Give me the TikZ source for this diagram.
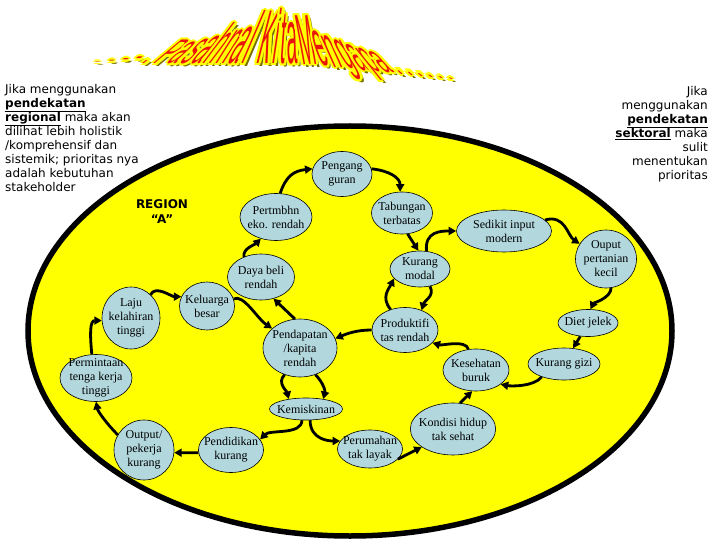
\documentclass[tikz,border=0pt]{standalone}
\usepackage{fontspec}
\setmainfont{Liberation Serif}
\newfontfamily\catatanfont{DejaVu Sans}
\newfontfamily\judulfont{Liberation Sans}
\usetikzlibrary{arrows.meta,shapes.geometric}
\definecolor{kuning}{RGB}{255,255,0}
\definecolor{biru}{RGB}{178,216,222}
\definecolor{zaitun}{RGB}{120,110,0}
\definecolor{merah}{RGB}{235,20,10}

\tikzset{
  gelembung/.style={ellipse, draw, line width=.6pt, fill=biru, inner xsep=-4pt, inner ysep=-3pt,
    align=center, font=\fontsize{12}{14}\selectfont},
  panah/.style={line width=2.8pt, -{Triangle[length=7.5pt,width=8pt]}},
  catatan/.style={font=\catatanfont\fontsize{12}{14}\selectfont, inner sep=0pt}
}

\begin{document}
\begin{tikzpicture}[x=1pt,y=-1pt]
\useasboundingbox (0,0) rectangle (720,540);
\fill[white] (0,0) rectangle (720,540);

%% judul miring
\foreach \huruf/\px in {-/95,-/107,-/119,-/131,./143,
  P/158,a/171,s/183,a/195,h/207,n/220,a/232,l/243,
  K/262,i/274,t/282,a/293,
  M/310,e/326,n/339,g/353,a/366,p/378,a/390,./402,./412,./422,./432,./442,./452} {
  \pgfmathsetmacro\atas{\px<250 ? 9+(250-\px)*0.33 : (\px>300 ? 9+(\px-300)*0.4 : 9)}
  \pgfmathsetmacro\bawah{\px>300 ? 63+(\px-300)*0.11 : 64}
  \pgfmathsetmacro\sy{(\bawah-\atas)/7.2}
  \pgfmathsetmacro\sl{(290-\px)/110}
  \foreach \dx/\dy/\warna in {3/3/zaitun,-2/0/kuning,2/0/kuning,0/-2/kuning,0/2/kuning,
      -1.5/-1.5/kuning,1.5/-1.5/kuning,-1.5/1.5/kuning,1.5/1.5/kuning}
    \node[font=\judulfont\bfseries\fontsize{10}{10}\selectfont, text=\warna, anchor=base, inner sep=0pt,
      xslant=\sl, xscale=1.9, yscale=\sy] at (\px+\dx,\bawah+\dy) {\huruf};
  \node[font=\judulfont\fontsize{10}{10}\selectfont, text=merah, anchor=base, inner sep=0pt,
      xslant=\sl, xscale=1.9, yscale=\sy] at (\px,\bawah) {\huruf};
}

%% catatan kiri dan kanan
\node[catatan, anchor=north west, align=left] (kiri) at (5,84)
  {Jika menggunakan\\ \underline{\textbf{pendekatan}}\\ \underline{\textbf{regional}} maka akan\\
   dilihat lebih holistik\\ /komprehensif dan\\ sistemik; prioritas nya\\ adalah kebutuhan\\ stakeholder};
\node[catatan, anchor=north east, align=right] (kanan) at (708,86)
  {Jika\\ menggunakan\\ \underline{\textbf{pendekatan}}\\ \underline{\textbf{sektoral}} maka\\ sulit\\
   menentukan\\ prioritas};

%% region
\draw[line width=5.5pt, fill=kuning] (350,331) ellipse [x radius=322, y radius=205];
\node[catatan, font=\catatanfont\bfseries\fontsize{12}{15}\selectfont, align=center] (region) at (162,212) {REGION\\“A”};

%% lingkaran sebab
\node[gelembung, minimum width=60pt, minimum height=45pt] (peng) at (342,174) {Pengang\\guran};
\node[gelembung, minimum width=72pt, minimum height=47pt] (pert) at (276,217) {Pertmbhn\\eko. rendah};
\node[gelembung, minimum width=61pt, minimum height=42pt] (tab) at (402,213) {Tabungan\\terbatas};
\node[gelembung, minimum width=67pt, minimum height=46pt] (daya) at (261,277) {Daya beli\\rendah};
\node[gelembung, minimum width=60pt, minimum height=36pt] (kmod) at (420,269) {Kurang\\modal};
\node[gelembung, minimum width=95pt, minimum height=42pt] (sedikit) at (504,231) {Sedikit input\\modern};
\node[gelembung, minimum width=61pt, minimum height=58pt] (ouput) at (606,259) {Ouput\\pertanian\\kecil};
\node[gelembung, minimum width=60pt, minimum height=27pt] (diet) at (588,323) {Diet jelek};
\node[gelembung, minimum width=72pt, minimum height=32pt] (gizi) at (564,364) {Kurang gizi};
\node[gelembung, minimum width=66pt, minimum height=42pt] (sehat) at (476,370) {Kesehatan\\buruk};
\node[gelembung, minimum width=66pt, minimum height=45pt] (prod) at (405,330) {Produktifi\\tas rendah};
\node[gelembung, minimum width=74pt, minimum height=58pt] (pend) at (300,348) {Pendapatan\\/kapita\\rendah};
\node[gelembung, minimum width=73pt, minimum height=22pt] (miskin) at (306,409) {Kemiskinan};
\node[gelembung, minimum width=55pt, minimum height=48pt] (kel) at (207,306) {Keluarga\\besar};
\node[gelembung, minimum width=58pt, minimum height=62pt] (laju) at (131,318) {Laju\\kelahiran\\tinggi};
\node[gelembung, minimum width=72pt, minimum height=47pt] (minta) at (96,378) {Permintaan\\tenga kerja\\tinggi};
\node[gelembung, minimum width=60pt, minimum height=60pt] (output) at (144,450) {Output/\\pekerja\\kurang};
\node[gelembung, minimum width=65pt, minimum height=45pt] (didik) at (231,450) {Pendidikan\\kurang};
\node[gelembung, minimum width=65pt, minimum height=38pt] (rumah) at (370,449) {Perumahan\\tak layak};
\node[gelembung, minimum width=77pt, minimum height=52pt] (kondisi) at (453,429) {Kondisi hidup\\tak sehat};

%% panah
\draw[panah] (pert.80) .. controls +(6,-18) and +(-18,2) .. (peng.170);
\draw[panah] (peng.10) .. controls +(18,2) and +(0,-14) .. (tab.95);
\draw[panah] (tab.-75) -- (kmod.95);
\draw[panah] (kmod.70) .. controls +(-2,-20) and +(-15,0) .. (sedikit.180);
\draw[panah] (sedikit.15) .. controls +(20,-6) and +(-12,-8) .. (ouput.150);
\draw[panah] (ouput.-80) .. controls +(0,10) and +(3,-6) .. (diet.80);
\draw[panah] (diet.-120) -- (gizi.60);
\draw[panah] (gizi.-150) .. controls +(-8,10) and +(10,2) .. (sehat.-30);
\draw[panah] (sehat.110) .. controls +(-3,-10) and +(10,3) .. (prod.-25);
\draw[panah] (kondisi.75) -- (sehat.-100);
\draw[panah] (prod.125) .. controls +(-10,-12) and +(-5,10) .. (kmod.200);
\draw[panah] (kmod.-60) .. controls +(5,10) and +(3,-10) .. (prod.50);
\draw[panah] (prod.180) .. controls +(-15,0) and +(12,-5) .. (pend.15);
\draw[panah] (pend.100) -- (daya.-60);
\draw[panah] (daya.130) .. controls +(-2,-8) and +(-6,6) .. (pert.-125);
\draw[panah] (kel.15) .. controls +(10,-5) and +(-15,-10) .. (pend.145);
\draw[panah] (laju.50) .. controls +(5,-10) and +(-10,0) .. (kel.160);
\draw[panah] (minta.100) .. controls +(-2,-20) and +(-12,0) .. (laju.185);
\draw[panah] (output.150) .. controls +(-10,-10) and +(2,10) .. (minta.-90);
\draw[panah] (didik.185) -- (output.-5);
\draw[panah] (miskin.-110) .. controls +(0,15) and +(10,-10) .. (didik.20);
\draw[panah] (miskin.-70) .. controls +(0,20) and +(-10,0) .. (rumah.165);
\draw[panah] (rumah.-20) -- (kondisi.-150);
\draw[panah] (pend.-120) .. controls +(-8,8) and +(-2,-8) .. (miskin.150);
\draw[panah] (pend.-60) .. controls +(8,8) and +(2,-8) .. (miskin.30);
\end{tikzpicture}
\end{document}
